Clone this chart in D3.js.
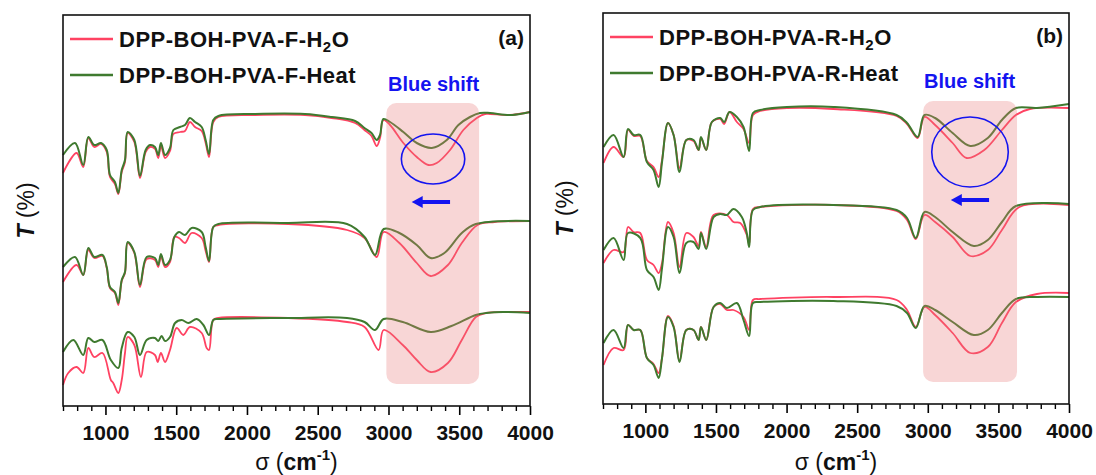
<!DOCTYPE html>
<html>
<head>
<meta charset="utf-8">
<script src="https://cdn.jsdelivr.net/npm/d3@7"></script>
<style>
  html, body { margin: 0; padding: 0; background: #fff; }
  svg { display: block; font-family: "Liberation Sans", Arial, sans-serif; }
</style>
</head>
<body>
<div id="chart"></div>
<script>
// ---- data: [wavenumber (cm-1), T (a.u., offset stacked)] ----
const panelLabels = ['(a)', '(b)']
const legendA = ['DPP-BOH-PVA-F-H', 'DPP-BOH-PVA-F-Heat']
const legendB = ['DPP-BOH-PVA-R-H', 'DPP-BOH-PVA-R-Heat']
const majorTicks = [1000, 1500, 2000, 2500, 3000, 3500, 4000]
const xDomain = [700, 4000]
const yDomain = [0, 391]

// panel (a)
const aRed1 = [[700,233],[796,253],[843,239],[879,268],[921,259],[969,262],[1009,254],[1032,229],[1067,222],[1091,212],[1115,234],[1138,244],[1157,273],[1204,264],[1244,228],[1284,254],[1315,259],[1350,257],[1373,248],[1392,260],[1421,248],[1456,255],[1480,272],[1527,274],[1562,275],[1597,284],[1633,279],[1680,275],[1708,263],[1732,249],[1762,284],[1798,289],[2057,291],[2410,291],[2599,288],[2764,283],[2830,276],[2880,270],[2917,260],[2940,268],[2964,286],[3011,281],[3105,263],[3200,249],[3282,241],[3341,243],[3435,256],[3529,276],[3624,288],[3682,292],[3718,292],[3859,291],[4000,294]]
const aGreen1 = [[700,251],[785,263],[843,241],[879,269],[921,261],[969,263],[1009,256],[1032,231],[1067,224],[1091,213],[1115,236],[1138,246],[1157,274],[1204,266],[1244,230],[1284,256],[1315,261],[1350,259],[1373,251],[1392,263],[1421,251],[1456,258],[1480,276],[1527,279],[1562,281],[1597,288],[1633,284],[1680,279],[1708,266],[1732,252],[1762,286],[1798,290],[2057,292],[2410,292],[2599,289],[2764,285],[2830,278],[2880,273],[2917,266],[2940,271],[2964,287],[3011,284],[3105,274],[3200,263],[3306,258],[3412,266],[3494,281],[3576,289],[3647,293],[3718,293],[3859,291],[4000,294]]
const aRed2 = [[700,124],[796,141],[843,131],[879,156],[921,148],[979,150],[1009,138],[1032,118],[1067,113],[1091,101],[1115,125],[1138,133],[1157,163],[1204,153],[1244,119],[1291,147],[1350,146],[1373,139],[1392,150],[1421,139],[1456,144],[1487,169],[1520,168],[1562,163],[1609,173],[1680,168],[1708,155],[1732,144],[1762,179],[1798,181],[2292,182],[2707,176],[2831,168],[2917,149],[2966,174],[3077,163],[3200,143],[3298,130],[3420,141],[3518,163],[3629,181],[3750,184],[4000,185]]
const aGreen2 = [[700,139],[785,149],[843,131],[879,158],[921,149],[979,151],[1009,139],[1032,119],[1067,114],[1091,103],[1115,126],[1138,134],[1157,164],[1204,154],[1244,121],[1291,149],[1350,148],[1373,141],[1392,152],[1421,141],[1456,146],[1487,169],[1520,174],[1562,171],[1609,178],[1680,174],[1708,159],[1732,145],[1762,179],[1798,182],[2292,183],[2707,182],[2831,169],[2905,151],[2966,177],[3077,173],[3200,161],[3298,148],[3395,153],[3518,173],[3617,182],[4000,185]]
const aRed3 = [[700,21],[737,33],[796,39],[843,33],[879,58],[921,49],[979,53],[1038,26],[1055,23],[1091,13],[1115,26],[1138,53],[1157,69],[1204,61],[1251,29],[1291,54],[1350,51],[1369,44],[1392,53],[1421,44],[1456,56],[1503,78],[1550,71],[1597,79],[1680,73],[1715,58],[1732,56],[1762,86],[1798,88],[2292,88],[2707,84],[2831,79],[2930,56],[2966,76],[3101,61],[3200,46],[3298,34],[3420,43],[3518,66],[3617,89],[3690,93],[3812,94],[4000,94]]
const aGreen3 = [[700,54],[773,66],[843,51],[879,68],[921,64],[979,66],[1038,46],[1091,38],[1115,58],[1157,74],[1204,69],[1244,51],[1291,66],[1350,68],[1373,65],[1397,70],[1421,65],[1456,69],[1492,83],[1539,86],[1586,83],[1645,87],[1692,81],[1732,71],[1762,86],[1798,87],[2292,88],[2707,88],[2831,84],[2905,76],[2966,87],[3101,84],[3298,74],[3445,80],[3617,91],[3690,93],[3812,94],[4000,93]]

// panel (b)
const bRed1 = [[704,241],[775,257],[846,247],[877,274],[917,268],[964,268],[1011,243],[1058,237],[1094,227],[1118,244],[1160,281],[1200,269],[1242,236],[1290,264],[1341,263],[1377,254],[1394,266],[1431,254],[1471,282],[1530,285],[1558,280],[1596,292],[1648,282],[1695,275],[1735,261],[1762,289],[1813,293],[2002,296],[2332,295],[2779,288],[2853,280],[2928,266],[2977,287],[3052,279],[3176,261],[3275,246],[3400,254],[3525,274],[3624,289],[3723,295],[4000,296]]
const bGreen1 = [[704,257],[775,269],[846,247],[877,275],[917,269],[964,269],[1011,242],[1058,234],[1094,217],[1118,242],[1160,281],[1200,269],[1242,232],[1290,264],[1341,264],[1377,254],[1394,267],[1431,254],[1471,282],[1530,286],[1558,282],[1596,292],[1648,287],[1695,277],[1735,253],[1762,291],[1813,294],[2002,297],[2332,297],[2779,289],[2853,281],[2928,267],[2977,289],[3052,286],[3176,271],[3301,258],[3425,266],[3525,284],[3624,296],[3773,296],[4000,300]]
const bRed2 = [[704,141],[775,154],[846,152],[877,177],[917,172],[964,171],[1011,144],[1058,139],[1094,131],[1118,141],[1160,182],[1200,171],[1242,137],[1290,171],[1341,167],[1377,158],[1394,172],[1431,157],[1483,189],[1577,189],[1624,182],[1672,181],[1718,169],[1735,160],[1762,195],[1813,197],[2332,199],[2779,193],[2853,184],[2915,165],[2977,189],[3052,182],[3176,167],[3301,148],[3425,154],[3525,174],[3649,197],[4000,199]]
const bGreen2 = [[704,154],[775,166],[846,144],[877,171],[964,166],[1011,134],[1058,127],[1094,114],[1118,136],[1160,177],[1200,167],[1242,131],[1290,161],[1341,162],[1377,155],[1394,171],[1431,155],[1483,187],[1530,190],[1577,189],[1624,195],[1683,187],[1718,171],[1735,157],[1762,194],[1813,197],[2332,199],[2779,194],[2853,186],[2915,166],[2977,192],[3052,187],[3176,172],[3326,158],[3425,164],[3525,182],[3624,198],[4000,200]]
const bRed3 = [[704,39],[775,56],[846,54],[877,79],[917,74],[964,74],[1011,46],[1058,40],[1094,31],[1118,46],[1160,88],[1200,78],[1242,43],[1290,74],[1341,74],[1377,64],[1394,77],[1431,64],[1483,97],[1530,100],[1577,94],[1624,94],[1695,87],[1735,74],[1762,104],[1813,105],[2332,107],[2779,104],[2853,94],[2915,77],[2977,97],[3052,89],[3176,71],[3301,51],[3425,57],[3525,81],[3624,102],[3773,110],[4000,111]]
const bGreen3 = [[704,61],[775,74],[846,56],[877,79],[917,74],[964,74],[1011,46],[1058,39],[1094,26],[1118,46],[1160,87],[1200,77],[1242,42],[1290,74],[1341,74],[1377,64],[1394,77],[1431,64],[1483,97],[1530,101],[1577,96],[1648,101],[1695,84],[1735,68],[1762,101],[1813,102],[2332,103],[2779,98],[2853,91],[2915,76],[2977,98],[3052,94],[3176,82],[3326,69],[3425,74],[3525,91],[3624,105],[3773,107],[4000,107]]

// highlighted O-H band, circle and arrow ([wavenumber, T])
const bandA = [2985, 3640], bandB = [2967, 3632]
const bandT = [22, 303]
const ellipseA = { w: 3315, t: 247, rw: 224, rt: 25 }
const ellipseB = { w: 3299, t: 252, rw: 271, rt: 35 }
const arrowA = { from: 3435, to: 3164, t: 204 }
const arrowB = { from: 3434, to: 3163, t: 204 }
const shiftLabel = 'Blue shift'

const RED = '#ff4262'
const GREEN = '#3f7a2f'
const BLUE = '#1414f0'

const svg = d3.select('#chart').append('svg')
  .attr('width', 1096)
  .attr('height', 475)

const panels = [
  { left: 63, top: 15, width: 467, height: 391, label: panelLabels[0], legend: legendA,
    red: [aRed1, aRed2, aRed3], green: [aGreen1, aGreen2, aGreen3],
    band: bandA, ellipse: ellipseA, arrow: arrowA, ytitleX: 26, shiftX: 388, shiftY: 91 },
  { left: 603, top: 13, width: 466, height: 391, label: panelLabels[1], legend: legendB,
    red: [bRed1, bRed2, bRed3], green: [bGreen1, bGreen2, bGreen3],
    band: bandB, ellipse: ellipseB, arrow: arrowB, ytitleX: 565, shiftX: 924, shiftY: 88 }
]

panels.forEach(drawPanel)

function drawPanel (p) {
  const g = svg.append('g').attr('transform', 'translate(' + p.left + ',' + p.top + ')')
  const x = d3.scaleLinear().domain(xDomain).range([0, p.width])
  const y = d3.scaleLinear().domain(yDomain).range([p.height, 0])

  // spectra
  const line = d3.line()
    .x(d => x(d[0]))
    .y(d => y(d[1]))
    .curve(d3.curveCatmullRom.alpha(0.5))
  const lines = g.append('g')
  p.red.forEach(s => {
    lines.append('path').attr('d', line(s))
      .attr('fill', 'none').attr('stroke', RED).attr('stroke-width', 1.8)
      .attr('stroke-linejoin', 'round')
  })
  p.green.forEach(s => {
    lines.append('path').attr('d', line(s))
      .attr('fill', 'none').attr('stroke', GREEN).attr('stroke-width', 2)
      .attr('stroke-linejoin', 'round')
  })

  // translucent band over the O-H stretch
  g.append('rect')
    .attr('x', x(p.band[0]))
    .attr('y', y(bandT[1]))
    .attr('width', x(p.band[1]) - x(p.band[0]))
    .attr('height', y(bandT[0]) - y(bandT[1]))
    .attr('rx', 10)
    .attr('fill', 'rgb(232,120,120)')
    .attr('fill-opacity', 0.3)

  // circle + arrow
  g.append('ellipse')
    .attr('cx', x(p.ellipse.w)).attr('cy', y(p.ellipse.t))
    .attr('rx', x(p.ellipse.w + p.ellipse.rw) - x(p.ellipse.w))
    .attr('ry', y(p.ellipse.t - p.ellipse.rt) - y(p.ellipse.t))
    .attr('fill', 'none').attr('stroke', BLUE).attr('stroke-width', 1.6)
  const ax0 = x(p.arrow.from), ax1 = x(p.arrow.to), ay = y(p.arrow.t)
  g.append('line')
    .attr('x1', ax0).attr('x2', ax1 + 8).attr('y1', ay).attr('y2', ay)
    .attr('stroke', BLUE).attr('stroke-width', 4)
  g.append('path')
    .attr('d', 'M' + ax1 + ',' + ay + 'L' + (ax1 + 11) + ',' + (ay - 6) + 'L' + (ax1 + 11) + ',' + (ay + 6) + 'Z')
    .attr('fill', BLUE)

  // bottom axis: labelled major ticks + minor ticks every 100
  const minor = d3.range(xDomain[0], xDomain[1] + 1, 100).filter(v => majorTicks.indexOf(v) < 0)
  g.append('g')
    .attr('transform', 'translate(0,' + p.height + ')')
    .call(d3.axisBottom(x).tickValues(minor).tickSize(5).tickFormat(''))
    .call(a => a.select('.domain').remove())
    .selectAll('line').attr('stroke-width', 1.4)
  const major = g.append('g')
    .attr('transform', 'translate(0,' + p.height + ')')
    .call(d3.axisBottom(x).tickValues(majorTicks).tickSize(9).tickFormat(d3.format('d')))
    .call(a => a.select('.domain').remove())
  major.selectAll('line').attr('stroke-width', 1.6)
  major.selectAll('text')
    .attr('y', 19)
    .attr('dy', '0.71em')
    .attr('font-size', 21)
    .attr('font-weight', 'bold')
    .attr('font-family', '"Liberation Sans", Arial, sans-serif')
    .attr('fill', '#111')

  // frame
  g.append('rect')
    .attr('width', p.width).attr('height', p.height)
    .attr('fill', 'none').attr('stroke', '#111').attr('stroke-width', 1.6)

  // legend
  const leg = g.append('g')
  const rows = [{ c: RED, t: p.legend[0], sub: true }, { c: GREEN, t: p.legend[1], sub: false }]
  rows.forEach((r, i) => {
    const ly = 24 + i * 36
    leg.append('line')
      .attr('x1', 7).attr('x2', 50).attr('y1', ly).attr('y2', ly)
      .attr('stroke', r.c).attr('stroke-width', 2.4)
    const t = leg.append('text')
      .attr('x', 56).attr('y', ly + 8)
      .attr('font-size', 22).attr('font-weight', 'bold').attr('fill', '#111')
      .attr('letter-spacing', 0.5)
      .text(r.t)
    if (r.sub) {
      t.append('tspan').attr('font-size', 15).attr('dy', 5).text('2')
      t.append('tspan').attr('dy', -5).text('O')
    }
  })
  g.append('text')
    .attr('x', p.width - 6).attr('y', 30)
    .attr('text-anchor', 'end')
    .attr('font-size', 21).attr('font-weight', 'bold').attr('fill', '#111')
    .text(p.label)

  // "Blue shift"
  svg.append('text')
    .attr('x', p.shiftX).attr('y', p.shiftY)
    .attr('font-size', 20).attr('font-weight', 'bold').attr('fill', BLUE)
    .text(shiftLabel)

  // axis titles
  const xt = svg.append('text')
    .attr('x', p.left + p.width / 2).attr('y', 470)
    .attr('text-anchor', 'middle')
    .attr('font-size', 23).attr('fill', '#111')
  xt.append('tspan').text('σ (')
  xt.append('tspan').attr('font-weight', 'bold').text('cm')
  xt.append('tspan').attr('font-weight', 'bold').attr('font-size', 15).attr('dy', -10).text('-1')
  xt.append('tspan').attr('dy', 10).text(')')

  const yt = svg.append('text')
    .attr('transform', 'translate(' + p.ytitleX + ',' + (p.top + p.height / 2) + ') rotate(-90)')
    .attr('text-anchor', 'middle')
    .attr('dy', '0.35em')
    .attr('font-size', 23).attr('fill', '#111')
  yt.append('tspan').attr('font-weight', 'bold').attr('font-style', 'italic').text('T')
  yt.append('tspan').text(' (%)')
}
</script>
</body>
</html>
